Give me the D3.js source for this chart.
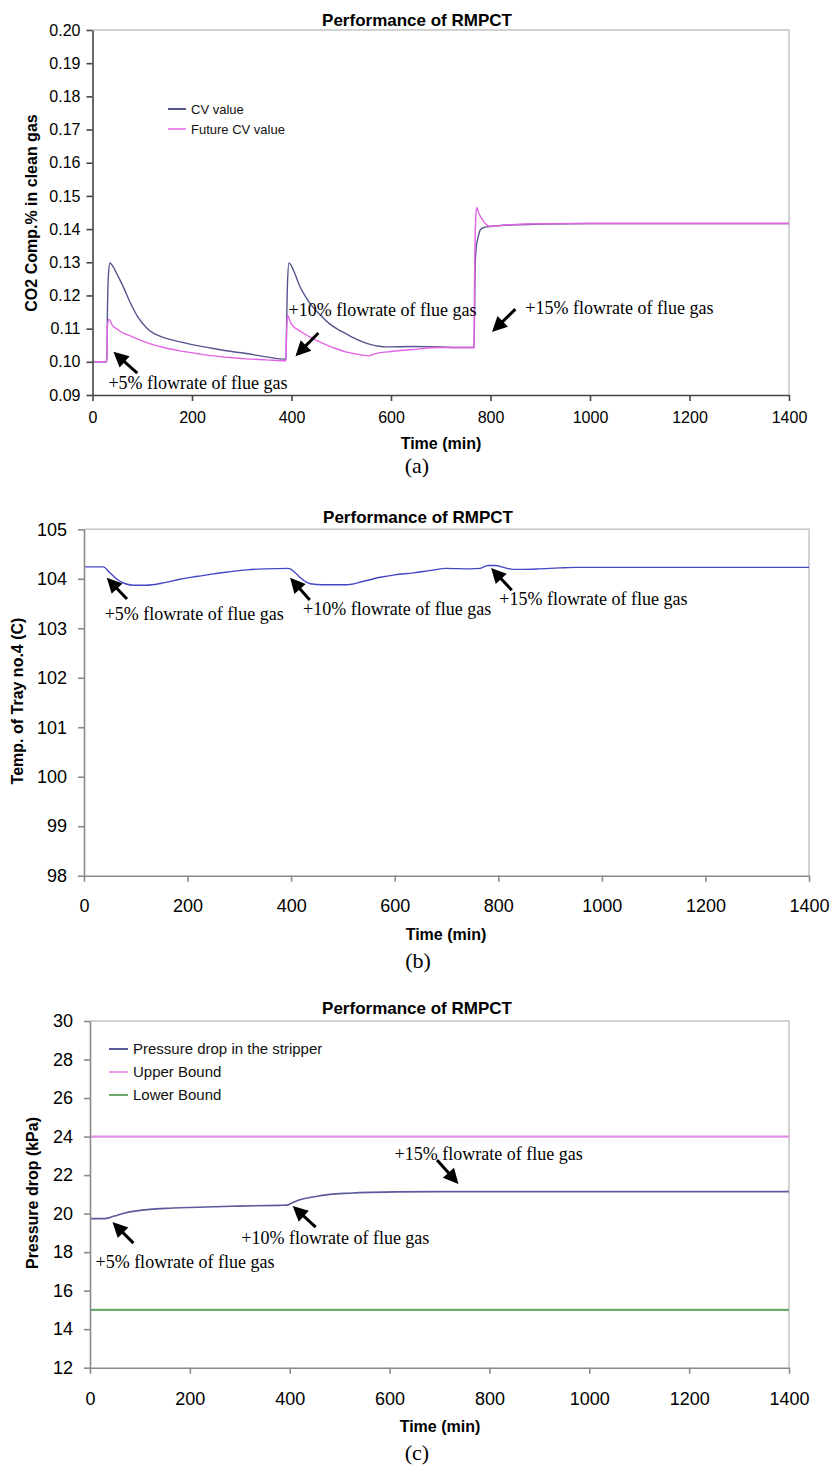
<!DOCTYPE html>
<html><head><meta charset="utf-8">
<script src="https://cdn.jsdelivr.net/npm/d3@7/dist/d3.min.js"></script>
<style>body{margin:0;background:#fff}svg{display:block}</style>
</head><body>
<svg id="chart" width="831" height="1468"></svg>
<script>
// ---------------- DATA ----------------
const xTicks = [0, 200, 400, 600, 800, 1000, 1200, 1400];

// Panel (a): CO2 composition in clean gas
const aYTicks = [0.09, 0.10, 0.11, 0.12, 0.13, 0.14, 0.15, 0.16, 0.17, 0.18, 0.19, 0.20];
const cvTime  = [0, 29, 30, 32, 35, 40, 50, 60, 76, 90, 109, 125, 143, 160, 176, 200, 243, 280, 309, 349, 389, 390, 392, 395, 405, 416, 430, 443, 460, 476, 493, 509, 525, 543, 560, 576, 590, 643, 700, 729, 767, 768, 769, 771, 775, 779, 784, 789, 800, 815, 850, 900, 1000, 1400];
const cvValue = [0.1000, 0.1000, 0.1150, 0.1260, 0.1298, 0.1290, 0.1262, 0.1232, 0.1178, 0.1138, 0.1102, 0.1084, 0.1073, 0.1066, 0.1060, 0.1052, 0.1040, 0.1031, 0.1025, 0.1015, 0.1008, 0.1100, 0.1240, 0.1298, 0.1272, 0.1230, 0.1192, 0.1165, 0.1138, 0.1115, 0.1098, 0.1085, 0.1072, 0.1060, 0.1052, 0.1047, 0.1045, 0.1046, 0.1045, 0.1043, 0.1043, 0.1150, 0.1280, 0.1340, 0.1375, 0.1396, 0.1403, 0.1406, 0.1408, 0.1410, 0.1413, 0.1415, 0.1417, 0.1417];
const futTime  = [0, 29, 30, 33, 40, 50, 60, 76, 90, 109, 143, 176, 210, 243, 276, 309, 350, 389, 390, 392, 399, 420, 443, 460, 476, 493, 509, 525, 543, 555, 563, 576, 600, 643, 696, 767, 768, 770, 772, 774, 776, 779, 784, 789, 794, 800, 815, 850, 900, 1000, 1400];
const futValue = [0.1000, 0.1000, 0.1110, 0.1128, 0.1110, 0.1098, 0.1088, 0.1078, 0.1069, 0.1058, 0.1043, 0.1033, 0.1025, 0.1018, 0.1013, 0.1009, 0.1006, 0.1003, 0.1080, 0.1140, 0.1115, 0.1090, 0.1070, 0.1058, 0.1047, 0.1038, 0.1030, 0.1025, 0.1020, 0.1018, 0.1022, 0.1027, 0.1031, 0.1037, 0.1043, 0.1043, 0.1250, 0.1420, 0.1465, 0.1460, 0.1450, 0.1440, 0.1428, 0.1418, 0.1411, 0.1408, 0.1410, 0.1414, 0.1416, 0.1417, 0.1417];

// Panel (b): temperature of tray no.4
const bYTicks = [98, 99, 100, 101, 102, 103, 104, 105];
const trayTime = [0, 37, 50, 65, 80, 95, 121, 150, 185, 220, 250, 280, 314, 350, 394, 400, 410, 420, 437, 460, 507, 540, 572, 600, 636, 670, 700, 745, 765, 780, 795, 810, 829, 850, 880, 920, 950, 1400];
const trayTemp = [104.24, 104.24, 104.12, 103.98, 103.90, 103.87, 103.87, 103.91, 103.99, 104.05, 104.10, 104.14, 104.18, 104.20, 104.21, 104.19, 104.10, 104.00, 103.90, 103.88, 103.88, 103.95, 104.03, 104.08, 104.12, 104.17, 104.21, 104.20, 104.21, 104.27, 104.27, 104.23, 104.19, 104.19, 104.20, 104.22, 104.23, 104.23];

// Panel (c): pressure drop in the stripper
const cYTicks = [12, 14, 16, 18, 20, 22, 24, 26, 28, 30];
const presTime = [0, 30, 40, 55, 70, 93, 120, 160, 200, 250, 300, 380, 395, 400, 410, 430, 455, 480, 520, 560, 614, 700, 1400];
const presDrop = [19.74, 19.74, 19.80, 19.92, 20.03, 20.14, 20.22, 20.28, 20.32, 20.36, 20.39, 20.43, 20.44, 20.50, 20.62, 20.78, 20.90, 21.00, 21.06, 21.10, 21.13, 21.14, 21.14];
const boundTime = [0, 1400];
const upperBound = [24, 24];
const lowerBound = [15, 15];

// ---------------- DRAWING ----------------
const SANS = "'Liberation Sans', Arial, Helvetica, sans-serif";
const SERIF = "'Liberation Serif', 'Times New Roman', serif";
const svg = d3.select('#chart');

function arrow(g, x1, y1, x2, y2) {
  const dx = x2 - x1, dy = y2 - y1, len = Math.hypot(dx, dy), ux = dx / len, uy = dy / len;
  const hl = 15, hw = 7.5;
  const bx = x2 - ux * hl, by = y2 - uy * hl;
  g.append('line').attr('x1', x1).attr('y1', y1).attr('x2', bx + ux * 3).attr('y2', by + uy * 3)
    .attr('stroke', '#000').attr('stroke-width', 3);
  g.append('path').attr('d', `M${x2},${y2}L${bx - uy * hw},${by + ux * hw}L${bx + uy * hw},${by - ux * hw}Z`).attr('fill', '#000');
}

function drawPanel(o) {
  const g = svg.append('g');
  const x = d3.scaleLinear().domain([0, 1400]).range([o.L, o.R]);
  const y = d3.scaleLinear().domain(o.yDomain).range([o.B, o.T]);

  g.append('path').attr('d', `M${o.L},${o.T}H${o.R}V${o.B}`)
    .attr('fill', 'none').attr('stroke', '#c4c4c4').attr('stroke-width', 1.5);

  const line = d3.line().x(d => x(d[0])).y(d => y(d[1])).curve(d3.curveMonotoneX);
  o.series.forEach(s => {
    g.append('path').datum(d3.zip(s.t, s.v)).attr('d', line)
      .attr('fill', 'none').attr('stroke', s.color).attr('stroke-width', s.w || 1.4)
      .attr('stroke-linejoin', 'round');
  });

  const ya = g.append('g').attr('transform', `translate(${o.L},0)`)
    .call(d3.axisLeft(y).tickValues(o.yTicks).tickFormat(o.yFmt).tickSizeInner(6).tickSizeOuter(0).tickPadding(o.yPad));
  ya.select('.domain').attr('stroke', o.axisColor).attr('stroke-width', 1.6);
  ya.selectAll('.tick line').attr('stroke', o.axisColor).attr('stroke-width', 1.6);
  ya.selectAll('text').attr('font-family', SANS).attr('font-size', o.tickFont).attr('fill', '#000');

  const xa = g.append('g').attr('transform', `translate(0,${o.B})`)
    .call(d3.axisBottom(x).tickValues(xTicks).tickFormat(d3.format('d')).tickSizeInner(6).tickSizeOuter(0));
  xa.select('.domain').attr('stroke', o.axisColor).attr('stroke-width', 1.6);
  xa.selectAll('.tick line').attr('stroke', o.axisColor).attr('stroke-width', 1.6);
  xa.selectAll('text').attr('font-family', SANS).attr('font-size', o.tickFont).attr('fill', '#000')
    .attr('y', o.xLabOff).attr('dy', null);

  g.append('text').attr('x', o.titleX).attr('y', o.titleY).attr('text-anchor', 'middle')
    .attr('font-family', SANS).attr('font-weight', 'bold').attr('font-size', 17).text('Performance of RMPCT');
  g.append('text').attr('x', o.xTitleX).attr('y', o.xTitleY).attr('text-anchor', 'middle')
    .attr('font-family', SANS).attr('font-weight', 'bold').attr('font-size', 16).text('Time (min)');
  g.append('text').attr('transform', `translate(${o.yTitleX},${o.yTitleY}) rotate(-90)`)
    .attr('text-anchor', 'middle').attr('dy', '0.35em')
    .attr('font-family', SANS).attr('font-weight', 'bold').attr('font-size', 16).text(o.yTitle);
  g.append('text').attr('x', o.capX).attr('y', o.capY).attr('text-anchor', 'middle')
    .attr('font-family', SERIF).attr('font-size', 22).text(o.caption);

  if (o.legend) {
    o.legend.items.forEach((it, i) => {
      const yy = o.legend.y + i * o.legend.dy;
      g.append('line').attr('x1', o.legend.x).attr('x2', o.legend.x + o.legend.len)
        .attr('y1', yy).attr('y2', yy).attr('stroke', it.color).attr('stroke-width', 2);
      g.append('text').attr('x', o.legend.x + o.legend.len + 5).attr('y', yy).attr('dy', '0.35em')
        .attr('font-family', SANS).attr('font-size', o.legend.font).attr('fill', '#111').text(it.name);
    });
  }

  o.notes.forEach(n => {
    g.append('text').attr('x', x(n.tt)).attr('y', y(n.tv))
      .attr('font-family', SERIF).attr('font-size', 18).attr('fill', '#000').text(n.text);
    arrow(g, x(n.at[0]), y(n.at[1]), x(n.ah[0]), y(n.ah[1]));
  });
}

drawPanel({
  L: 92.5, R: 789, T: 30, B: 395, yDomain: [0.09, 0.20], yTicks: aYTicks, yFmt: d3.format('.2f'),
  yPad: 6, tickFont: 16, xLabOff: 28, axisColor: '#444',
  titleX: 417, titleY: 26, xTitleX: 441, xTitleY: 449, yTitleX: 31, yTitleY: 213,
  yTitle: 'CO2 Comp.% in clean gas', capX: 417, capY: 473, caption: '(a)',
  series: [
    { t: cvTime, v: cvValue, color: '#55558e' },
    { t: futTime, v: futValue, color: '#e462e4' }
  ],
  legend: { x: 168, y: 109, dy: 20, len: 18, font: 13,
    items: [{ name: 'CV value', color: '#55558e' }, { name: 'Future CV value', color: '#ea8cea' }] },
  notes: [
    { text: '+5% flowrate of flue gas', tt: 32, tv: 0.0918, at: [90, 0.0966], ah: [42, 0.1030] },
    { text: '+10% flowrate of flue gas', tt: 394, tv: 0.1138, at: [454, 0.1087], ah: [408, 0.1017] },
    { text: '+15% flowrate of flue gas', tt: 870, tv: 0.1143, at: [850, 0.1159], ah: [803, 0.1090] }
  ]
});

drawPanel({
  L: 84, R: 809, T: 529.3, B: 875.7, yDomain: [98, 105], yTicks: bYTicks, yFmt: d3.format('d'),
  yPad: 11, tickFont: 18, xLabOff: 36, axisColor: '#8a8a8a',
  titleX: 418, titleY: 523, xTitleX: 446, xTitleY: 940, yTitleX: 17, yTitleY: 701,
  yTitle: 'Temp. of Tray no.4 (C)', capX: 418, capY: 968, caption: '(b)',
  series: [{ t: trayTime, v: trayTemp, color: '#4646c8' }],
  notes: [
    { text: '+5% flowrate of flue gas', tt: 40, tv: 103.17, at: [83, 103.59], ah: [44, 104.02] },
    { text: '+10% flowrate of flue gas', tt: 423, tv: 103.27, at: [436, 103.57], ah: [398, 104.02] },
    { text: '+15% flowrate of flue gas', tt: 802, tv: 103.47, at: [826, 103.77], ah: [786, 104.22] }
  ]
});

drawPanel({
  L: 90, R: 789, T: 1021, B: 1367.7, yDomain: [12, 30], yTicks: cYTicks, yFmt: d3.format('d'),
  yPad: 11, tickFont: 18, xLabOff: 37, axisColor: '#8a8a8a',
  titleX: 417, titleY: 1014, xTitleX: 440, xTitleY: 1432, yTitleX: 32, yTitleY: 1193,
  yTitle: 'Pressure drop (kPa)', capX: 417, capY: 1460, caption: '(c)',
  series: [
    { t: boundTime, v: upperBound, color: '#e48ee4', w: 2.2 },
    { t: boundTime, v: lowerBound, color: '#6aaa6a', w: 2.2 },
    { t: presTime, v: presDrop, color: '#5a5a9c', w: 1.6 }
  ],
  legend: { x: 109, y: 1049, dy: 23, len: 19, font: 15,
    items: [{ name: 'Pressure drop in the stripper', color: '#5a5a9c' },
            { name: 'Upper Bound', color: '#eaa0ea' },
            { name: 'Lower Bound', color: '#6aaa6a' }] },
  notes: [
    { text: '+5% flowrate of flue gas', tt: 11, tv: 17.18, at: [87, 18.47], ah: [45, 19.56] },
    { text: '+10% flowrate of flue gas', tt: 303, tv: 18.42, at: [452, 19.30], ah: [406, 20.39] },
    { text: '+15% flowrate of flue gas', tt: 610, tv: 22.78, at: [695, 22.78], ah: [738, 21.54] }
  ]
});
</script>
</body></html>
